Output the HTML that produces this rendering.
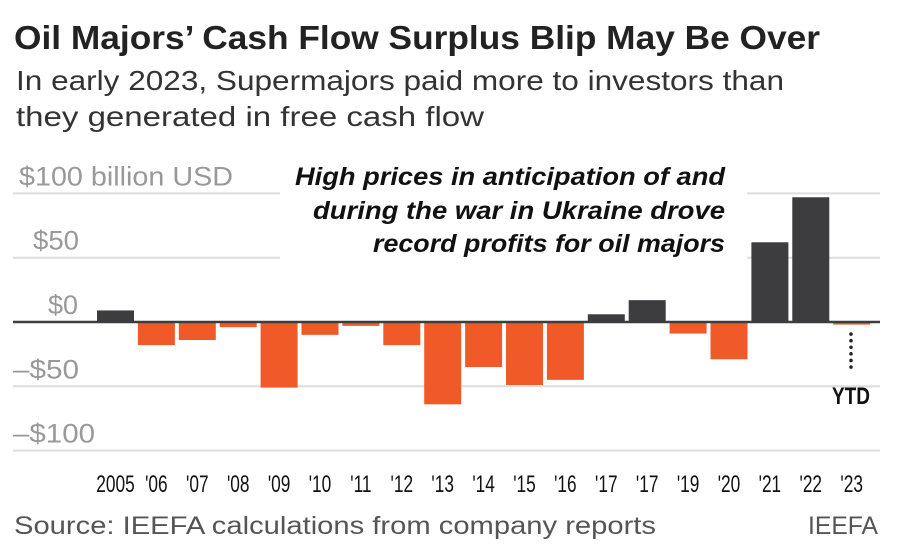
<!DOCTYPE html>
<html><head><meta charset="utf-8"><style>
body{margin:0;background:#fff;width:900px;height:552px;overflow:hidden;font-family:"Liberation Sans",sans-serif}
svg{display:block}
</style></head><body>
<svg width="900" height="552">
<text x="14" y="49" font-size="33" font-weight="bold" fill="#222" textLength="806" lengthAdjust="spacingAndGlyphs">Oil Majors’ Cash Flow Surplus Blip May Be Over</text>
<text x="16" y="90" font-size="28" fill="#333" textLength="768" lengthAdjust="spacingAndGlyphs">In early 2023, Supermajors paid more to investors than</text>
<text x="16" y="126" font-size="28" fill="#333" textLength="468" lengthAdjust="spacingAndGlyphs">they generated in free cash flow</text>
<g id="grid"></g>
<g id="bars"></g>
<g id="xlabels"></g>
<g font-size="25" font-weight="bold" font-style="italic" fill="#111" text-anchor="end">
<text x="725" y="185" textLength="430" lengthAdjust="spacingAndGlyphs">High prices in anticipation of and</text>
<text x="725" y="219" textLength="412" lengthAdjust="spacingAndGlyphs">during the war in Ukraine drove</text>
<text x="725" y="252" textLength="352" lengthAdjust="spacingAndGlyphs">record profits for oil majors</text>
</g>
<line x1="851" y1="334" x2="851" y2="369" stroke="#222" stroke-width="3.5" stroke-dasharray="0.1 6.5" stroke-linecap="round"/>
<text x="851" y="404" font-size="24" font-weight="bold" fill="#111" text-anchor="middle" textLength="38" lengthAdjust="spacingAndGlyphs">YTD</text>
<text x="14" y="534" font-size="25" fill="#555" textLength="642" lengthAdjust="spacingAndGlyphs">Source: IEEFA calculations from company reports</text>
<text x="878" y="534" font-size="25" fill="#555" text-anchor="end" textLength="70" lengthAdjust="spacingAndGlyphs">IEEFA</text>
</svg>
<script>
const categories=["2005","'06","'07","'08","'09","'10","'11","'12","'13","'14","'15","'16","'17","'17","'19","'20","'21","'22","'23"];
const values=[9,-18,-14,-4,-51,-10,-3,-18,-64,-35,-49,-45,6,17,-9,-29,62,97,-2];
const ticks=[100,50,0,-50,-100];
const tickLabels=["$100 billion USD","$50","$0","\u2013$50","\u2013$100"];
const NS="http://www.w3.org/2000/svg";
const y0=322,ppu=1.286,x0=97,step=40.9,bw=37;
const y=v=>y0-v*ppu;
const x=i=>x0+i*step;
function mk(tag,attrs,parent){const e=document.createElementNS(NS,tag);for(const k in attrs)e.setAttribute(k,attrs[k]);parent.appendChild(e);return e;}
const grid=document.getElementById('grid');
const labelX={100:19,50:33,0:48,"-50":13,"-100":13};
const labelW={100:214,50:46,0:30,"-50":66,"-100":82};
ticks.forEach((t,i)=>{
  if(t!==0){
    if(t>0){
      let l=mk('line',{x1:13,x2:280,y1:y(t),y2:y(t),stroke:'#ddd','stroke-width':2},grid);
      
      
      let l2=mk('line',{x1:747,x2:880,y1:y(t),y2:y(t),stroke:'#ddd','stroke-width':2},grid);
      
      
    }else{
      let l=mk('line',{x1:13,x2:880,y1:y(t),y2:y(t),stroke:'#ddd','stroke-width':2},grid);
      
      
    }
  }
  const tx=mk('text',{x:labelX[t],y:y(t)-8,'font-size':27,fill:'#999',textLength:labelW[t],lengthAdjust:'spacingAndGlyphs'},grid);
  tx.textContent=tickLabels[i];
  
  
});
const bars=document.getElementById('bars');
values.forEach((v,i)=>{
  const r=mk('rect',{x:x(i),width:bw,y:Math.min(y(v),y0),height:Math.abs(y(v)-y0),fill:v>=0?'#3d3d3f':'#f05a28'},bars);
  
  
});
const zl=mk('line',{x1:13,x2:880,y1:y0,y2:y0,stroke:'#3d3d3f','stroke-width':2.5},bars);


const xl=document.getElementById('xlabels');
categories.forEach((c,i)=>{
  const cx=x(i)+bw/2;
  const t=mk('text',{x:cx,y:492,'font-size':24,fill:'#111','text-anchor':'middle',transform:`translate(${cx} 0) scale(0.72 1) translate(${-cx} 0)`},xl);
  t.textContent=c;
  
  
});
</script>
</body></html>
